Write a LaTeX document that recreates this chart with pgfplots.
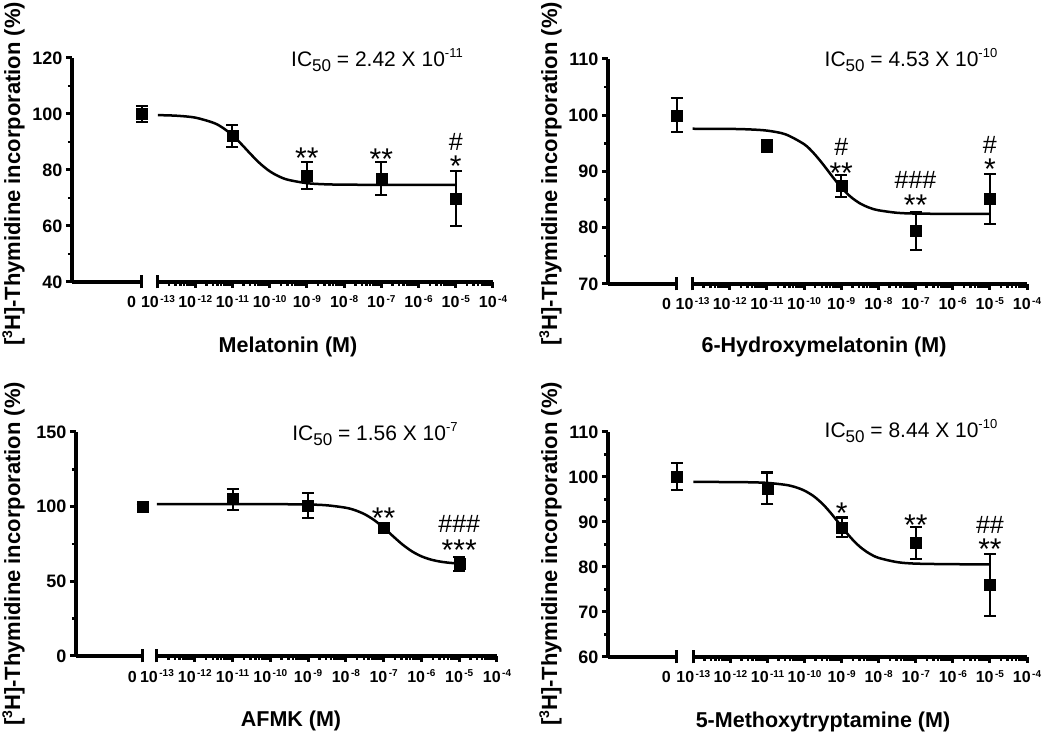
\documentclass[border=0pt]{standalone}
\usepackage{fontspec}
\setmainfont{Liberation Sans}
\usepackage{pgfplots}
\pgfplotsset{compat=1.18}

\def\dec#1{2e#1,3e#1,4e#1,5e#1,6e#1,7e#1,8e#1,9e#1}
\edef\minorlist{\dec{-13},\dec{-12},\dec{-11},\dec{-10},\dec{-9},\dec{-8},\dec{-7},\dec{-6},\dec{-5}}
\newcommand\sci[1]{\fontsize{16}{16}\selectfont\bfseries 10\kern1.5pt\raisebox{5.5pt}{\fontsize{10}{10}\selectfont\bfseries #1}}
\newcommand\ic[2]{IC\raisebox{-5pt}{\fontsize{17}{17}\selectfont 50} = #1 X 10\raisebox{9pt}{\fontsize{13}{13}\selectfont #2}}
\newcommand\ylab{[\raisebox{8pt}{\fontsize{14}{14}\selectfont\bfseries 3}H]-Thymidine incorporation (\%)}
\newcommand\zerolab{\makebox[0pt][r]{\fontsize{16}{16}\selectfont\bfseries 0\hspace{6pt}}}

\tikzset{
  seg/.style={line width=3.5pt, black},
  barx/.style={line width=3pt, black},
  ast/.style={font=\fontsize{30}{30}\selectfont, yshift=-6.5pt, inner sep=0pt},
  hsh/.style={font=\fontsize{25}{25}\selectfont, inner sep=0pt},
}
\pgfplotsset{
  every axis/.append style={
    scale only axis, clip=false,
    axis x line*=bottom, axis y line*=left,
    axis line style={-},
    x axis line style={draw=none},
    y axis line style={line width=3.5pt},
    tick align=outside,
    major tick length=6pt, minor tick length=4pt,
    major tick style={line width=3pt, black},
    minor tick style={line width=2.5pt, black},
    xticklabel style={font=\fontsize{16}{16}\selectfont\bfseries, anchor=base, yshift=-20pt, inner sep=0pt},
    yticklabel style={font=\fontsize{18}{18}\selectfont\bfseries},
  },
  datp/.style={black, only marks, mark=square*, mark size=5.5pt,
    error bars/y dir=both, error bars/y explicit,
    error bars/error bar style={line width=2pt, black},
    error bars/error mark options={rotate=90, mark size=6pt, line width=2pt, black}},
  fitc/.style={black, line width=2.5pt, smooth, no marks},
}

\begin{document}
\begin{tikzpicture}[x=1pt,y=1pt]
\useasboundingbox (0,0) rectangle (1050,734);

% ---------------- Panel 1: Melatonin
\begin{axis}[xmode=log, xmax=1e-4, xmin=4.9e-16, ymin=40, ymax=120,
  xtick={3.7e-14,1e-13,1e-12,1e-11,1e-10,1e-9,1e-8,1e-7,1e-6,1e-5,1e-4},
  xticklabels={\zerolab,\sci{-13},\sci{-12},\sci{-11},\sci{-10},\sci{-9},\sci{-8},\sci{-7},\sci{-6},\sci{-5},\sci{-4}},
  minor xtick/.expanded=\minorlist,
  /pgf/number format/assume math mode=true,
  at={(72pt,452pt)}, anchor=south west,
  width=421pt, height=224pt,
  ytick={40,60,80,100,120}, minor ytick={50,70,90,110}]
\draw[seg] (axis cs:4.9e-16,40) -- (axis cs:3.7e-14,40);
\draw[seg] (axis cs:1e-13,40) -- (axis cs:1e-4,40);
\draw[barx] (axis cs:3.7e-14,40) ++(0pt,-6.5pt) -- ++(0pt,13pt);
\draw[barx] (axis cs:1e-13,40) ++(0pt,-6.5pt) -- ++(0pt,13pt);
\addplot[fitc] coordinates {(1e-13,99.60) (3.162e-13,99.38) (1e-12,98.71) (3.162e-12,96.81) (5.623e-12,94.99) (1e-11,92.39) (1.778e-11,89.11) (3.162e-11,85.54) (5.623e-11,82.22) (1e-10,79.57) (1.778e-10,77.70) (3.162e-10,76.48) (1e-9,75.29) (3.162e-9,74.89) (1e-8,74.76) (1e-7,74.70) (1e-6,74.70) (1e-5,74.70)};
\addplot[datp] table[x=x,y=y,y error=e] {
x y e
3.7e-14 100 3
1e-11 92.1 4
1e-9 78 4.8
1e-7 77 6
1e-5 69.7 9.8
};
\node[ast] at (axis cs:1e-9,86.5) {**};
\node[ast] at (axis cs:1e-7,86.2) {**};
\node[hsh] at (axis cs:1e-5,90.1) {\#};
\node[ast] at (axis cs:1e-5,83.6) {*};
\end{axis}

% ---------------- Panel 2: 6-Hydroxymelatonin
\begin{axis}[xmode=log, xmax=1e-4, xmin=5.3e-16, ymin=70, ymax=110,
  xtick={3.8e-14,1e-13,1e-12,1e-11,1e-10,1e-9,1e-8,1e-7,1e-6,1e-5,1e-4},
  xticklabels={\zerolab,\sci{-13},\sci{-12},\sci{-11},\sci{-10},\sci{-9},\sci{-8},\sci{-7},\sci{-6},\sci{-5},\sci{-4}},
  minor xtick/.expanded=\minorlist,
  /pgf/number format/assume math mode=true,
  at={(608pt,450pt)}, anchor=south west,
  width=419pt, height=225pt,
  ytick={70,80,90,100,110}, minor ytick={75,85,95,105}]
\draw[seg] (axis cs:5.3e-16,70) -- (axis cs:3.8e-14,70);
\draw[seg] (axis cs:1e-13,70) -- (axis cs:1e-4,70);
\draw[barx] (axis cs:3.8e-14,70) ++(0pt,-6.5pt) -- ++(0pt,13pt);
\draw[barx] (axis cs:1e-13,70) ++(0pt,-6.5pt) -- ++(0pt,13pt);
\addplot[fitc] coordinates {(1e-13,97.60) (1e-12,97.57) (3.162e-12,97.49) (1e-11,97.27) (3.162e-11,96.61) (1e-10,94.86) (1.778e-10,93.33) (3.162e-10,91.37) (5.623e-10,89.21) (1e-9,87.17) (1.778e-9,85.53) (3.162e-9,84.35) (5.623e-9,83.58) (1e-8,83.11) (3.162e-8,82.66) (1e-7,82.52) (1e-6,82.46) (1e-5,82.45)};
\addplot[datp] table[x=x,y=y,y error=e] {
x y e
3.8e-14 100 3
1e-11 94.5 1.1
1e-9 87.4 1.9
1e-7 79.4 3.4
1e-5 85.1 4.5
};
\node[hsh] at (axis cs:1e-9,94.4) {\#};
\node[ast] at (axis cs:1e-9,90.9) {**};
\node[hsh] at (axis cs:1e-7,88.5) {\#\#\#};
\node[ast] at (axis cs:1e-7,85.2) {**};
\node[hsh] at (axis cs:1e-5,94.7) {\#};
\node[ast] at (axis cs:1e-5,91.5) {*};
\end{axis}

% ---------------- Panel 3: AFMK
\begin{axis}[xmode=log, xmax=1e-4, xmin=7.2e-16, ymin=0, ymax=150,
  xtick={4.2e-14,1e-13,1e-12,1e-11,1e-10,1e-9,1e-8,1e-7,1e-6,1e-5,1e-4},
  xticklabels={\zerolab,\sci{-13},\sci{-12},\sci{-11},\sci{-10},\sci{-9},\sci{-8},\sci{-7},\sci{-6},\sci{-5},\sci{-4}},
  minor xtick/.expanded=\minorlist,
  /pgf/number format/assume math mode=true,
  at={(76pt,78pt)}, anchor=south west,
  width=421pt, height=224pt,
  ytick={0,50,100,150}, minor ytick={25,75,125}]
\draw[seg] (axis cs:7.2e-16,0) -- (axis cs:4.2e-14,0);
\draw[seg] (axis cs:1e-13,0) -- (axis cs:1e-4,0);
\draw[barx] (axis cs:4.2e-14,0) ++(0pt,-6.5pt) -- ++(0pt,13pt);
\draw[barx] (axis cs:1e-13,0) ++(0pt,-6.5pt) -- ++(0pt,13pt);
\addplot[fitc] coordinates {(1e-13,101.70) (1e-10,101.67) (1e-9,101.44) (3.162e-9,100.90) (1e-8,99.27) (1.778e-8,97.57) (3.162e-8,94.89) (5.623e-8,90.99) (1e-7,85.92) (1.778e-7,80.18) (3.162e-7,74.64) (5.623e-7,70.07) (1e-6,66.75) (1.778e-6,64.56) (3.162e-6,63.20) (5.623e-6,62.39) (1e-5,61.92)};
\addplot[datp] table[x=x,y=y,y error=e] {
x y e
4.2e-14 100.2 1
1e-11 105 7
1e-9 100.6 8.3
1e-7 86 2
1e-5 61.7 4.5
};
\node[ast] at (axis cs:1e-7,96.6) {**};
\node[hsh] at (axis cs:1e-5,88.4) {\#\#\#};
\node[ast] at (axis cs:1e-5,75.5) {***};
\end{axis}

% ---------------- Panel 4: 5-Methoxytryptamine
\begin{axis}[xmode=log, xmax=1e-4, xmin=5e-16, ymin=60, ymax=110,
  xtick={3.6e-14,1e-13,1e-12,1e-11,1e-10,1e-9,1e-8,1e-7,1e-6,1e-5,1e-4},
  xticklabels={\zerolab,\sci{-13},\sci{-12},\sci{-11},\sci{-10},\sci{-9},\sci{-8},\sci{-7},\sci{-6},\sci{-5},\sci{-4}},
  minor xtick/.expanded=\minorlist,
  /pgf/number format/assume math mode=true,
  at={(608pt,77pt)}, anchor=south west,
  width=419pt, height=225pt,
  ytick={60,70,80,90,100,110}, minor ytick={65,75,85,95,105}]
\draw[seg] (axis cs:5e-16,60) -- (axis cs:3.6e-14,60);
\draw[seg] (axis cs:1e-13,60) -- (axis cs:1e-4,60);
\draw[barx] (axis cs:3.6e-14,60) ++(0pt,-6.5pt) -- ++(0pt,13pt);
\draw[barx] (axis cs:1e-13,60) ++(0pt,-6.5pt) -- ++(0pt,13pt);
\addplot[fitc] coordinates {(1e-13,98.90) (1e-12,98.88) (3.162e-12,98.83) (1e-11,98.69) (3.162e-11,98.24) (5.623e-11,97.76) (1e-10,96.96) (1.778e-10,95.71) (3.162e-10,93.91) (5.623e-10,91.58) (1e-9,88.97) (1.778e-9,86.49) (3.162e-9,84.45) (5.623e-9,82.99) (1e-8,82.02) (3.162e-8,81.08) (1e-7,80.75) (1e-6,80.62) (1e-5,80.60)};
\addplot[datp] table[x=x,y=y,y error=e] {
x y e
3.6e-14 100 3
1e-11 97.5 3.5
1e-9 88.8 2.2
1e-7 85.3 3.5
1e-5 76 7
};
\node[ast] at (axis cs:1e-9,93.4) {*};
\node[ast] at (axis cs:1e-7,90.8) {**};
\node[hsh] at (axis cs:1e-5,89.3) {\#\#};
\node[ast] at (axis cs:1e-5,85.3) {**};
\end{axis}

% ---------------- texts
\node[anchor=base, font=\fontsize{21}{21}\selectfont] at (377,667) {\ic{2.42}{-11}};
\node[anchor=base, font=\fontsize{21}{21}\selectfont] at (911,667) {\ic{4.53}{-10}};
\node[anchor=base, font=\fontsize{21}{21}\selectfont] at (375,293) {\ic{1.56}{-7}};
\node[anchor=base, font=\fontsize{21}{21}\selectfont] at (911,296) {\ic{8.44}{-10}};

\node[anchor=base, font=\fontsize{21.5}{21.5}\selectfont\bfseries] at (288,381) {Melatonin (M)};
\node[anchor=base, font=\fontsize{21.5}{21.5}\selectfont\bfseries] at (824,381) {6-Hydroxymelatonin (M)};
\node[anchor=base, font=\fontsize{21.5}{21.5}\selectfont\bfseries] at (291,8) {AFMK (M)};
\node[anchor=base, font=\fontsize{21.5}{21.5}\selectfont\bfseries] at (823,7) {5-Methoxytryptamine (M)};

\node[anchor=base, rotate=90, font=\fontsize{22}{22}\selectfont\bfseries] at (20,560) {\ylab};
\node[anchor=base, rotate=90, font=\fontsize{22}{22}\selectfont\bfseries] at (557,560) {\ylab};
\node[anchor=base, rotate=90, font=\fontsize{22}{22}\selectfont\bfseries] at (20,180) {\ylab};
\node[anchor=base, rotate=90, font=\fontsize{22}{22}\selectfont\bfseries] at (557,180) {\ylab};
\end{tikzpicture}
\end{document}
